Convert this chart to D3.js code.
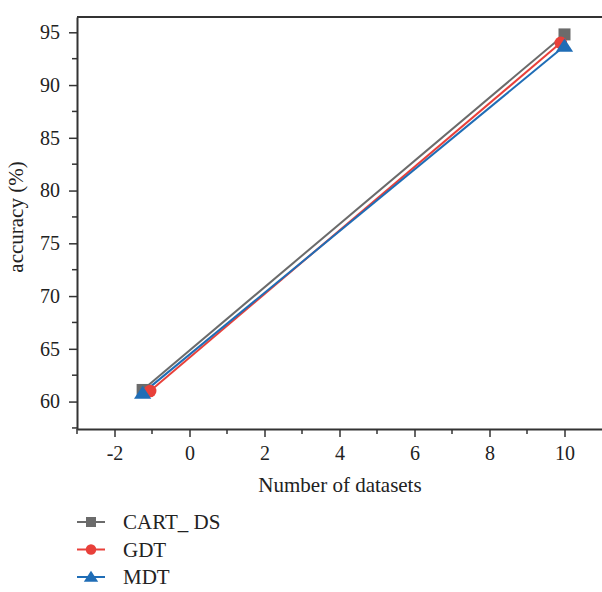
<!DOCTYPE html>
<html>
<head>
<meta charset="utf-8">
<script src="https://cdn.jsdelivr.net/npm/d3@7"></script>
<style>
  body { margin: 0; background: #fff; }
</style>
</head>
<body>
<script>
// values
const seriesNames = ['CART_ DS', 'GDT', 'MDT'];
const cartX = [-1.25, 10];
const cartY = [61.1, 94.8];
const gdtX = [-1.05, 9.9];
const gdtY = [61.0, 94.0];
const mdtX = [-1.25, 10];
const mdtY = [60.8, 93.7];
const xTicks = [-2, 0, 2, 4, 6, 8, 10];
const yTicks = [60, 65, 70, 75, 80, 85, 90, 95];

const width = 602, height = 592;
const margin = { top: 17, right: 0, bottom: 163, left: 77 };
const serif = '"Liberation Serif", "DejaVu Serif", serif';
const axisColor = '#333';
const textColor = '#222';

const svg = d3.select('body').append('svg')
    .attr('width', width)
    .attr('height', height)
    .attr('font-family', serif);

const x = d3.scaleLinear().domain([-3, 11]).range([margin.left, width - margin.right]);
const y = d3.scaleLinear().domain([57.4, 96.45]).range([height - margin.bottom, margin.top]);

const series = [
    { name: seriesNames[0], xs: cartX, ys: cartY, color: '#6b6b6b', marker: 'square' },
    { name: seriesNames[1], xs: gdtX, ys: gdtY, color: '#e8403a', marker: 'circle' },
    { name: seriesNames[2], xs: mdtX, ys: mdtY, color: '#1f6db6', marker: 'triangle' }
];

// minor ticks
const xMinor = d3.range(-3, 11, 1).filter(v => !xTicks.includes(v));
const yMinor = d3.range(57.5, 96.5, 2.5).filter(v => !yTicks.includes(v));

const gx = svg.append('g')
    .attr('transform', `translate(0,${y.range()[0]})`)
    .call(d3.axisBottom(x).tickValues(xTicks).tickSize(8).tickSizeOuter(0).tickPadding(9).tickFormat(d => String(d)));
gx.append('g').selectAll('line').data(xMinor).enter().append('line')
    .attr('x1', d => x(d)).attr('x2', d => x(d)).attr('y1', 0).attr('y2', 5)
    .attr('stroke', axisColor).attr('stroke-width', 1.5);

const gy = svg.append('g')
    .attr('transform', `translate(${margin.left},0)`)
    .call(d3.axisLeft(y).tickValues(yTicks).tickSize(8).tickSizeOuter(0).tickPadding(9));
gy.append('g').selectAll('line').data(yMinor).enter().append('line')
    .attr('y1', d => y(d)).attr('y2', d => y(d)).attr('x1', 0).attr('x2', -5)
    .attr('stroke', axisColor).attr('stroke-width', 1.5);

[gx, gy].forEach(g => {
    g.attr('font-family', serif).attr('font-size', 20);
    g.select('.domain').attr('stroke', axisColor).attr('stroke-width', 2);
    g.selectAll('.tick line').attr('stroke', axisColor).attr('stroke-width', 1.5);
    g.selectAll('.tick text').attr('fill', textColor);
});

// top frame line
svg.append('line')
    .attr('x1', margin.left).attr('x2', width)
    .attr('y1', y.range()[1]).attr('y2', y.range()[1])
    .attr('stroke', axisColor).attr('stroke-width', 2);

// axis titles
svg.append('text')
    .attr('x', 340).attr('y', 492)
    .attr('text-anchor', 'middle')
    .attr('font-size', 21).attr('fill', textColor)
    .text('Number of datasets');

svg.append('text')
    .attr('transform', `translate(23,217) rotate(-90)`)
    .attr('text-anchor', 'middle')
    .attr('font-size', 21).attr('fill', textColor)
    .text('accuracy (%)');

function drawMarker(g, type, cx, cy, color, s) {
    if (type === 'square') {
        g.append('rect').attr('x', cx - s).attr('y', cy - s).attr('width', 2 * s).attr('height', 2 * s).attr('fill', color);
    } else if (type === 'circle') {
        g.append('circle').attr('cx', cx).attr('cy', cy).attr('r', s * 1.05).attr('fill', color);
    } else {
        const h = s * 1.25;
        g.append('path').attr('d', `M${cx},${cy - h} L${cx + h * 1.15},${cy + h * 0.75} L${cx - h * 1.15},${cy + h * 0.75} Z`).attr('fill', color);
    }
}

const line = d3.line().x(d => x(d[0])).y(d => y(d[1]));
const plot = svg.append('g');
series.forEach(s => {
    const pts = s.xs.map((v, i) => [v, s.ys[i]]);
    plot.append('path').datum(pts)
        .attr('d', line).attr('fill', 'none')
        .attr('stroke', s.color).attr('stroke-width', 2);
});
series.forEach(s => {
    s.xs.forEach((v, i) => drawMarker(plot, s.marker, x(v), y(s.ys[i]), s.color, 6));
});

// legend
const legend = svg.append('g');
series.forEach((s, i) => {
    const ly = 522 + i * 27.5;
    legend.append('line').attr('x1', 77).attr('x2', 105).attr('y1', ly).attr('y2', ly)
        .attr('stroke', s.color).attr('stroke-width', 2);
    drawMarker(legend, s.marker, 91, ly, s.color, 5);
    legend.append('text').attr('x', 123).attr('y', ly + 7)
        .attr('font-size', 21).attr('fill', textColor).text(s.name);
});
</script>
</body>
</html>
